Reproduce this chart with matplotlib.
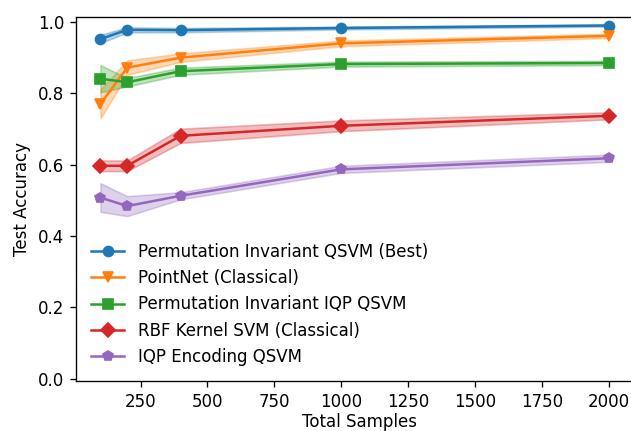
import matplotlib
matplotlib.use("Agg")
import matplotlib.pyplot as plt
import numpy as np

# Training set sizes
samples = np.array([100, 200, 400, 1000, 2000])

# Mean test accuracy and spread for each model
labels = [
    "Permutation Invariant QSVM (Best)",
    "PointNet (Classical)",
    "Permutation Invariant IQP QSVM",
    "RBF Kernel SVM (Classical)",
    "IQP Encoding QSVM",
]
pi_qsvm = [0.952, 0.978, 0.977, 0.983, 0.990]
pi_qsvm_std = [0.012, 0.007, 0.006, 0.004, 0.003]
pointnet = [0.770, 0.872, 0.900, 0.940, 0.961]
pointnet_std = [0.040, 0.020, 0.012, 0.008, 0.006]
pi_iqp = [0.841, 0.831, 0.862, 0.882, 0.885]
pi_iqp_std = [0.038, 0.012, 0.010, 0.007, 0.006]
rbf_svm = [0.597, 0.597, 0.681, 0.709, 0.737]
rbf_svm_std = [0.015, 0.015, 0.020, 0.015, 0.010]
iqp = [0.508, 0.484, 0.513, 0.587, 0.618]
iqp_std = [0.040, 0.028, 0.010, 0.010, 0.010]

means = [pi_qsvm, pointnet, pi_iqp, rbf_svm, iqp]
stds = [pi_qsvm_std, pointnet_std, pi_iqp_std, rbf_svm_std, iqp_std]
markers = ["o", "v", "s", "D", "p"]
colors = ["C0", "C1", "C2", "C3", "C4"]

dpi = 120
fig = plt.figure(figsize=(631 / dpi, 431 / dpi), dpi=dpi)
# the right spine sits just outside the picture, as in the reference
ax = fig.add_axes([76 / 631, 1 - 381 / 431, (642 - 76) / 631, (381 - 17.3) / 431])
ax.spines["right"].set_visible(False)

for m, s, lab, mk, c in zip(means, stds, labels, markers, colors):
    m = np.array(m)
    s = np.array(s)
    ax.plot(samples, m, marker=mk, color=c, label=lab)
    ax.fill_between(samples, m - s, m + s, color=c, alpha=0.3)

ax.set_xlim(8.6, 2125)
ax.set_xticks([250, 500, 750, 1000, 1250, 1500, 1750, 2000])
ax.set_ylim(-0.006, 1.013)
ax.set_xlabel("Total Samples", labelpad=1.5)
ax.set_ylabel("Test Accuracy")
ax.legend(loc="lower left", frameon=False)

fig.savefig("out.png", dpi=dpi)
